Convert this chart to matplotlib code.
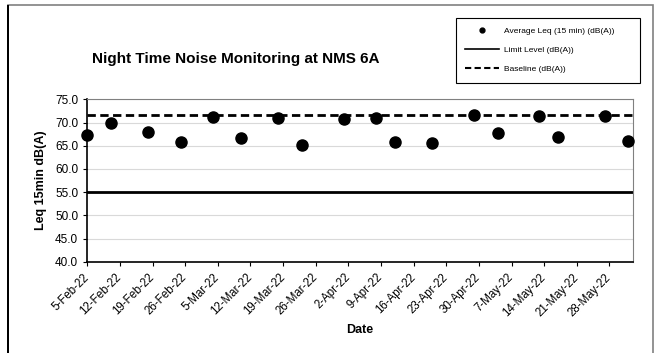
import numpy as np
import pandas as pd
import matplotlib
matplotlib.use('Agg')
import matplotlib.pyplot as plt
from matplotlib.lines import Line2D
from matplotlib.patches import Rectangle

plt.rcParams['font.family'] = ['Liberation Sans', 'DejaVu Sans']

# -----------------
# Datos del grafico
# -----------------
fechas = ['2022-02-05', '2022-02-10', '2022-02-18', '2022-02-25', '2022-03-04',
          '2022-03-10', '2022-03-18', '2022-03-23', '2022-04-01', '2022-04-08',
          '2022-04-12', '2022-04-20', '2022-04-29', '2022-05-04', '2022-05-13',
          '2022-05-17', '2022-05-27', '2022-06-01']
leq = [67.2, 70.0, 67.9, 65.7, 71.2, 66.7, 71.0, 65.1, 70.7, 70.9,
       65.8, 65.6, 71.6, 67.7, 71.3, 66.8, 71.4, 66.1]
limite = 55.0
baseline = 71.6
ticks_fechas = pd.date_range('2022-02-05', '2022-05-28', freq='7D')

fechas = pd.to_datetime(fechas)

# -------
# Grafico
# -------
fig = plt.figure(figsize=(6.65, 3.53), dpi=100)
ax = fig.add_axes([87.3/665, 1-261.7/353, (632.7-87.3)/665, (261.7-99.3)/353])

# marco exterior del chart
fig.patches.append(Rectangle((7.5/665, -0.05), (652.5-7.5)/665, 1.05 - 5/353,
                             transform=fig.transFigure, fill=False,
                             edgecolor='#808080', linewidth=1.2))
fig.patches.append(Rectangle((7.5/665, -0.05), 0, 1.05 - 5/353,
                             transform=fig.transFigure, fill=False,
                             edgecolor='black', linewidth=1.2))

ax.set_ylim(40, 75)
ax.set_yticks(np.arange(40, 75.1, 5))
ax.yaxis.set_major_formatter(plt.FormatStrFormatter('%.1f'))
ax.set_xlim(pd.Timestamp('2022-02-05'), pd.Timestamp('2022-06-02'))
ax.set_xticks(ticks_fechas)
ax.set_xticklabels([f'{d.day}-{d.strftime("%b")}-22' for d in ticks_fechas],
                   rotation=45, ha='right', va='center', rotation_mode='anchor',
                   fontsize=8.3)
ax.tick_params(axis='y', labelsize=8.5, length=3, direction='out')
ax.tick_params(axis='x', length=3, direction='out', pad=7)

ax.grid(axis='y', color='#d9d9d9', linewidth=0.8)
ax.set_axisbelow(True)

ax.axhline(limite, color='black', linewidth=2)
ax.axhline(baseline, color='black', linewidth=2, linestyle=(0, (3, 1.6)))
ax.plot(fechas, leq, 'o', color='black', markersize=8, clip_on=False, zorder=5)

for s in ['top', 'right']:
    ax.spines[s].set_color('#808080')
for s in ['left', 'bottom']:
    ax.spines[s].set_color('black')
    ax.spines[s].set_linewidth(1.2)

ax.set_ylabel('Leq 15min dB(A)', fontsize=9, fontweight='bold', labelpad=6)
ax.set_xlabel('Date', fontsize=9, fontweight='bold', labelpad=4)

fig.text(92/665, 1-59/353, 'Night Time Noise Monitoring at NMS 6A',
         fontsize=11, fontweight='bold', va='center', ha='left')

# leyenda
handles = [Line2D([], [], marker='o', linestyle='none', color='black', markersize=3.5),
           Line2D([], [], color='black', linewidth=1.2),
           Line2D([], [], color='black', linewidth=1.5, linestyle=(0, (3, 1.6)))]
labels = ['Average Leq (15 min) (dB(A))', 'Limit Level (dB(A))', 'Baseline (dB(A))']
leg = fig.legend(handles, labels, loc='upper left',
                 bbox_to_anchor=(456/665, 1-88/353, (640-456)/665, 70/353),
                 mode='expand', fontsize=6, frameon=True, fancybox=False,
                 edgecolor='black', framealpha=1, borderaxespad=0,
                 handlelength=4.1, handletextpad=0.5,
                 labelspacing=1.36, borderpad=1.1)
leg.get_frame().set_linewidth(0.8)

fig.savefig('out.png', dpi=100)
